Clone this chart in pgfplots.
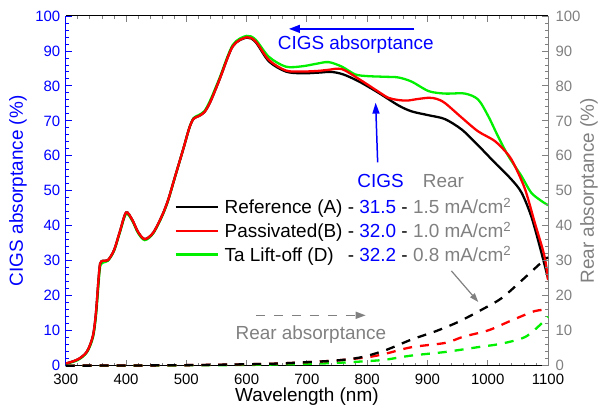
\documentclass[border=0pt]{standalone}
\usepackage{fontspec}
\setmainfont{Liberation Sans}
\usepackage{pgfplots}
\pgfplotsset{compat=1.18}
\usetikzlibrary{arrows.meta}
\definecolor{cblue}{RGB}{0,0,255}
\definecolor{rgray}{RGB}{128,128,128}
\definecolor{lgreen}{RGB}{0,240,0}
\definecolor{lred}{RGB}{255,0,0}

\pgfplotsset{
  base/.style={
    width=484pt, height=351pt, scale only axis,
    xmin=300, xmax=1100, ymin=0, ymax=100,
    xtick={300,400,...,1100}, ytick={0,10,...,100},
    minor x tick num=4, minor y tick num=4,
    major tick length=6pt, minor tick length=3pt,
    tick align=inside,
    /pgf/number format/assume math mode=true,
    /pgf/number format/1000 sep={},
    tick label style={font=\fontsize{15}{18}\selectfont},
    label style={font=\fontsize{19}{23}\selectfont},
    axis line style={line width=1pt},
    tick style={line width=0.8pt},
  },
  cigs/.style={line width=2.3pt, smooth},
  rear/.style={line width=2.3pt, smooth, dash pattern=on 9pt off 8pt},
}

\begin{document}
\begin{tikzpicture}
\begin{axis}[base,
  axis y line*=left,
  y axis line style={cblue},
  ytick style={cblue},
  yticklabel style={cblue, xshift=-2pt},
  xticklabel style={yshift=-5pt},
  xlabel={Wavelength (nm)},
  ylabel={CIGS absorptance (\%)},
  xlabel style={at={(rel axis cs:0.5,-0.0883)}, anchor=center},
  ylabel style={cblue, at={(rel axis cs:-0.099,0.5)}, anchor=center},
  legend cell align=left,
  legend image code/.code={\draw[#1] (0pt,0pt) -- (42pt,0pt);},
  legend style={draw=none, fill=none, inner sep=0pt,
    at={(rel axis cs:0.2252,0.386)}, anchor=west,
    font=\fontsize{19}{23}\selectfont,
    row sep=7pt, column sep=6pt, nodes={inner sep=0pt}},
]
\coordinate (bbl) at (rel axis cs:-0.1364,-0.1339);
\coordinate (btr) at (rel axis cs:1.1054,1.0456);
% Ta lift-off drawn first so that red lies on top
\addplot[cigs, lgreen, forget plot] coordinates {
(300,0.5) (320,1.6) (335,3.8) (345,8.0) (350,14) (354,22.5) (357,28.3) (362,29.5)
(370,30) (380,32.8) (390,38.2) (400,43.4) (410,41.5) (420,37.9) (431,35.9) (445,37.8)
(460,42.8) (470,47.3) (480,53.2) (495,62) (505,68) (512,70.8) (520,71.6) (530,72.8)
(540,76) (555,82.2) (577,91.7) (600,94.3) (615,93.2) (637,88.3) (665,85.5) (692,85.6)
(715,86.3) (736,86.8) (758,85.5) (780,83.3) (800,82.8) (830,82.6) (852,82.4) (874,81.2)
(902,78.5) (929,77.8) (962,77.8) (984,76.1) (1001,71.3) (1017,65.6) (1034,60.0)
(1056,54.2) (1072,49.5) (1089,47.1) (1100,45.9)};
\addplot[cigs, black] coordinates {
(300,0.6) (320,1.8) (335,4.0) (345,8.5) (350,15) (354,24) (357,29.2) (362,30)
(370,30.2) (380,33) (390,38.5) (400,43.8) (410,41.8) (420,38.2) (431,36.2) (445,38)
(460,43) (470,47.5) (480,53.3) (495,62) (505,68) (512,70.6) (520,71.3) (530,72.5)
(540,75.5) (555,81.8) (577,91.3) (600,93.8) (615,92.5) (637,87.0) (665,84.1) (692,83.6)
(720,83.8) (740,84.0) (760,83.3) (786,81.3) (819,78.0) (852,74.4) (874,72.7)
(902,71.6) (929,70.5) (957,67.5) (984,63.0) (1012,58.0) (1039,53.3) (1056,49.5)
(1072,42.8) (1086,34.3) (1100,25)};
\addlegendentry{Reference (A) - \textcolor{cblue}{31.5} - \textcolor{rgray}{1.5 mA/cm\textsuperscript{2}}}
\addplot[cigs, lred] coordinates {
(300,0.6) (320,1.8) (335,4.0) (345,8.5) (350,15) (354,24) (357,29.2) (362,30)
(370,30.2) (380,33) (390,38.5) (400,43.8) (410,41.8) (420,38.2) (431,36.2) (445,38)
(460,43) (470,47.5) (480,53.3) (495,62) (505,68) (512,70.6) (520,71.3) (530,72.5)
(540,75.5) (555,81.8) (577,91.3) (600,93.9) (615,92.7) (637,87.4) (665,84.4) (692,84.1)
(720,84.3) (736,84.6) (758,84.8) (786,82.0) (819,78.3) (835,76.6) (850,76.0)
(866,75.8) (882,76.2) (902,76.6) (915,76.3) (929,75.1) (957,70.9) (984,67.0) (1012,64.2)
(1034,60.3) (1045,57.1) (1062,50.4) (1078,40.9) (1094,31.4) (1100,24.5)};
\addlegendentry{Passivated(B) - \textcolor{cblue}{32.0} - \textcolor{rgray}{1.0 mA/cm\textsuperscript{2}}}
\addlegendimage{cigs, lgreen}
\addlegendentry{\rlap{Ta Lift-off (D)}\hphantom{Reference (A)} - \textcolor{cblue}{32.2} - \textcolor{rgray}{0.8 mA/cm\textsuperscript{2}}}
\end{axis}

\begin{axis}[base,
  axis y line*=right, axis x line=none,
  y axis line style={rgray},
  ytick style={rgray},
  yticklabel style={rgray, xshift=4pt},
  ylabel={Rear absorptance (\%)},
  ylabel style={rgray, at={(rel axis cs:1.0847,0.5)}, anchor=center},
  clip=false,
]
\addplot[rear, lgreen] coordinates {
(300,0) (400,0) (500,0.1) (600,0.2) (700,0.5) (750,0.8) (800,1.3) (830,1.7)
(874,2.9) (929,3.9) (984,5.3) (1023,6.3) (1062,8.2) (1089,12) (1100,14)};
\addplot[rear, lred] coordinates {
(300,0) (400,0.05) (500,0.15) (600,0.4) (650,0.6) (700,1.0) (750,1.5) (800,2.4)
(830,3.4) (874,5.3) (929,6.5) (960,8.3) (1001,10.1) (1039,12.9) (1078,15.6) (1100,16)};
\addplot[rear, black] coordinates {
(300,0) (400,0.05) (500,0.15) (600,0.4) (650,0.6) (700,1.0) (750,1.5) (790,2.4)
(830,4.4) (874,7.5) (913,9.8) (951,12.5) (990,16) (1023,19.3) (1056,24.3) (1089,29.5) (1100,31)};

\begin{scope}[font=\fontsize{19}{23}\selectfont]
\draw[cblue, line width=1.5pt, -{Triangle[length=11pt,width=8pt]}] (axis cs:878.5,96.3) -- (axis cs:670.3,96.3);
\node[cblue] at (axis cs:781,91.7) {CIGS absorptance};
\draw[cblue, line width=1.5pt, -{Triangle[length=11pt,width=7pt]}] (axis cs:817.4,58.1) -- (axis cs:814,75.2);
\node[cblue] at (axis cs:822.3,52.7) {CIGS};
\node[rgray] at (axis cs:926.5,52.7) {Rear};
\draw[rgray, line width=1.2pt, -{Triangle[length=9pt,width=6pt]}] (axis cs:939.7,27.1) -- (axis cs:984.3,18.2);
\draw[rgray, line width=1.5pt, dash pattern=on 9pt off 9pt] (axis cs:615.7,14.4) -- (axis cs:784,14.4);
\draw[rgray, line width=1.5pt, -{Triangle[length=10pt,width=7pt]}] (axis cs:785,14.4) -- (axis cs:797.5,14.4);
\node[rgray] at (axis cs:706.6,8.8) {Rear absorptance};
\end{scope}
\end{axis}
\path (bbl) rectangle (btr);
\end{tikzpicture}
\end{document}
